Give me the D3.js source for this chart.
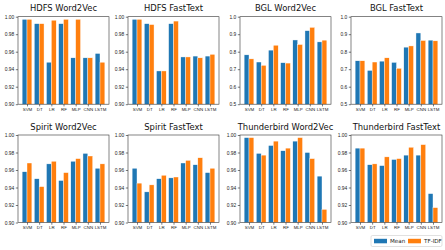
<!DOCTYPE html>
<html><head><meta charset="utf-8">
<script src="https://cdn.jsdelivr.net/npm/d3@7/dist/d3.min.js"></script>
<style>body{margin:0;background:#fff}svg{display:block;font-family:"DejaVu Sans",sans-serif}</style>
</head><body>
<svg id="c" width="445" height="250"></svg>
<script>
const categories = ["SVM","DT","LR","RF","MLP","CNN","LSTM"];
const titles = ["HDFS Word2Vec","HDFS FastText","BGL Word2Vec","BGL FastText",
                "Spirit Word2Vec","Spirit FastText","Thunderbird Word2Vec","Thunderbird FastText"];
const seriesNames = ["Mean","TF-IDF"];
const hdfsW2vMean  = [0.997,0.992,0.948,0.992,0.953,0.953,0.958];
const hdfsW2vTfidf = [0.997,0.992,0.996,0.997,0.997,0.953,0.948];
const hdfsFtMean   = [0.997,0.992,0.938,0.992,0.954,0.955,0.955];
const hdfsFtTfidf  = [0.997,0.991,0.938,0.995,0.954,0.953,0.957];
const bglW2vMean   = [0.782,0.741,0.809,0.737,0.867,0.920,0.856];
const bglW2vTfidf  = [0.759,0.722,0.837,0.735,0.841,0.939,0.866];
const bglFtMean    = [0.748,0.693,0.746,0.739,0.826,0.907,0.866];
const bglFtTfidf   = [0.748,0.741,0.765,0.705,0.833,0.864,0.862];
const spiW2vMean   = [0.958,0.950,0.967,0.948,0.970,0.979,0.962];
const spiW2vTfidf  = [0.968,0.941,0.970,0.957,0.973,0.976,0.967];
const spiFtMean    = [0.962,0.935,0.950,0.951,0.968,0.966,0.957];
const spiFtTfidf   = [0.945,0.943,0.954,0.952,0.971,0.974,0.962];
const tbW2vMean    = [0.997,0.979,0.988,0.982,0.993,0.980,0.953];
const tbW2vTfidf   = [0.997,0.977,0.993,0.985,0.997,0.973,0.915];
const tbFtMean     = [0.985,0.966,0.965,0.972,0.977,0.977,0.933];
const tbFtTfidf    = [0.985,0.967,0.975,0.973,0.986,0.989,0.917];
const hiTicks  = [0.90,0.92,0.94,0.96,0.98,1.00];
const bglTicks = [0.5,0.6,0.7,0.8,0.9,1.0];

const panels = [
  {mean:hdfsW2vMean, tfidf:hdfsW2vTfidf, ticks:hiTicks, fmt:".2f"},
  {mean:hdfsFtMean,  tfidf:hdfsFtTfidf,  ticks:hiTicks, fmt:".2f"},
  {mean:bglW2vMean,  tfidf:bglW2vTfidf,  ticks:bglTicks, fmt:".1f"},
  {mean:bglFtMean,   tfidf:bglFtTfidf,   ticks:bglTicks, fmt:".1f"},
  {mean:spiW2vMean,  tfidf:spiW2vTfidf,  ticks:hiTicks, fmt:".2f"},
  {mean:spiFtMean,   tfidf:spiFtTfidf,   ticks:hiTicks, fmt:".2f"},
  {mean:tbW2vMean,   tfidf:tbW2vTfidf,   ticks:hiTicks, fmt:".2f"},
  {mean:tbFtMean,    tfidf:tbFtTfidf,    ticks:hiTicks, fmt:".2f"}
];
const colors = ["#1f77b4","#ff7f0e"];
const lefts = [18,128,240,351];
const tops = [16.7,135];
const W = 91, H = 87.5;

const svg = d3.select("#c");
panels.forEach((p,i)=>{
  const col = i%4, row = Math.floor(i/4);
  const g = svg.append("g").attr("transform",`translate(${lefts[col]},${tops[row]})`);
  const x = d3.scaleLinear().domain([-0.74,6.74]).range([0,W]);
  const dom = [p.ticks[0], p.ticks[p.ticks.length-1]];
  const y = d3.scaleLinear().domain(dom).range([H,0]);
  const bw = x(0.4)-x(0);
  [p.mean,p.tfidf].forEach((vals,s)=>{
    g.selectAll(null).data(vals).enter().append("rect")
      .attr("x",(d,k)=>x(k + (s===0?-0.4:0)))
      .attr("width",bw)
      .attr("y",d=>y(d))
      .attr("height",d=>H-y(d))
      .attr("fill",colors[s])
      .attr("stroke","#fff").attr("stroke-width",0.4);
  });
  const xa = g.append("g").attr("transform",`translate(0,${H})`)
    .call(d3.axisBottom(x).tickValues(d3.range(7)).tickFormat(k=>categories[k]).tickSize(2.2).tickPadding(1.5));
  const ya = g.append("g")
    .call(d3.axisLeft(y).tickValues(p.ticks).tickFormat(d3.format(p.fmt)).tickSize(2.2).tickPadding(1.5));
  [xa,ya].forEach(a=>{
    a.select(".domain").remove();
    a.selectAll("line").attr("stroke","#222").attr("stroke-width",0.6);
  });
  xa.selectAll("text").attr("font-size",4.4).attr("fill","#222");
  ya.selectAll("text").attr("font-size",4.9).attr("fill","#222");
  g.append("rect").attr("width",W).attr("height",H).attr("fill","none")
    .attr("stroke","#333").attr("stroke-width",0.6);
  g.append("text").attr("x",W/2).attr("y",-5.5).attr("text-anchor","middle")
    .attr("font-size",8.4).attr("fill","#111").text(titles[i]);
});

// legend
const lg = svg.append("g").attr("transform","translate(371,235.5)");
lg.append("rect").attr("width",71).attr("height",11).attr("rx",1.5)
  .attr("fill","#fff").attr("stroke","#ccc").attr("stroke-width",0.6);
seriesNames.forEach((n,s)=>{
  lg.append("rect").attr("x",3+s*34).attr("y",3.3).attr("width",13).attr("height",4.5).attr("fill",colors[s]);
  lg.append("text").attr("x",19+s*34).attr("y",7.8).attr("font-size",5.6).attr("fill","#222").text(n);
});
</script>
</body></html>
